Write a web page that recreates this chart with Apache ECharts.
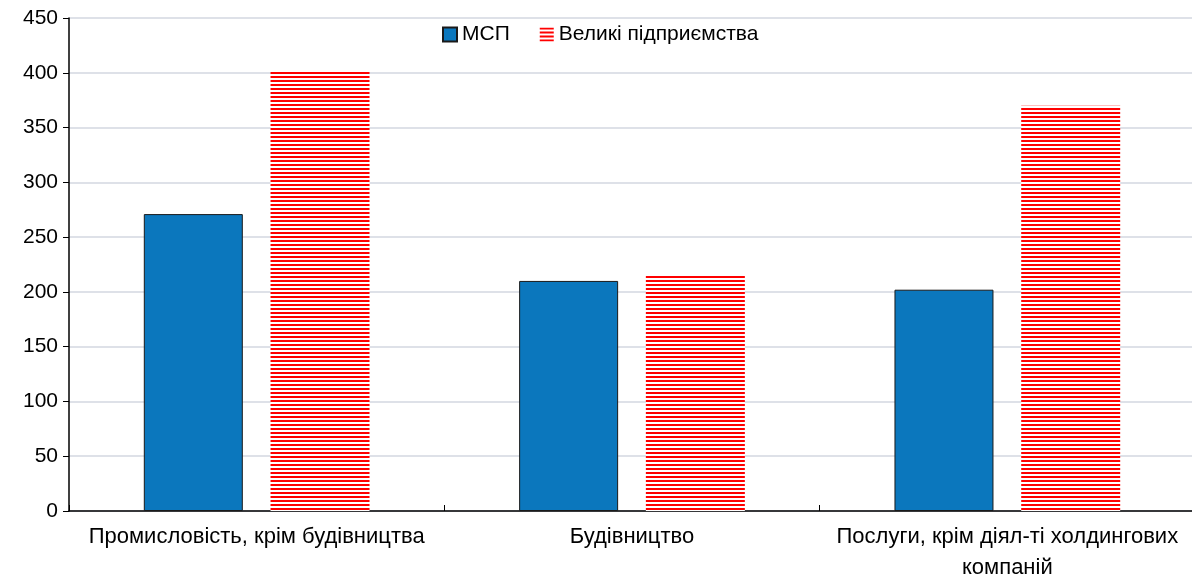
<!DOCTYPE html>
<html>
<head>
<meta charset="utf-8">
<script src="https://cdn.jsdelivr.net/npm/echarts@6/dist/echarts.min.js"></script>
<style>
  html, body { margin: 0; padding: 0; background: #fff; }
  #chart { width: 1192px; height: 580px; }
</style>
</head>
<body>
<div id="chart"></div>
<script>
var categories = ['Промисловість, крім будівництва', 'Будівництво', 'Послуги, крім діял-ті холдингових\nкомпаній']
var smeValues = [271, 210, 202]
var largeValues = [402, 215, 370]
var yTicks = [0, 450, 50]

// червоні горизонтальні смужки
function stripes () {
  var c = document.createElement('canvas')
  c.width = 4
  c.height = 4
  var ctx = c.getContext('2d')
  ctx.fillStyle = '#ffffff'
  ctx.fillRect(0, 0, 4, 4)
  ctx.fillStyle = '#ff0000'
  ctx.fillRect(0, 0, 4, 2)
  return c
}

var myChart = echarts.init(document.getElementById('chart'))
var font = '"Liberation Sans", Arial, sans-serif'
var option = {
  animation: false,
  legend: {
    top: 19,
    left: 437,
    itemWidth: 14,
    itemHeight: 14,
    itemGap: 30,
    textStyle: { fontFamily: font, fontSize: 21, color: '#000' },
    data: [
      { name: 'МСП', icon: 'rect' },
      { name: 'Великі підприємства', icon: 'rect' }
    ]
  },
  grid: {
    left: 69,
    top: 18,
    width: 1126,
    height: 493,
    outerBoundsMode: 'none'
  },
  xAxis: {
    type: 'category',
    data: categories,
    axisLine: { lineStyle: { color: '#000', width: 1.5 } },
    axisTick: { show: true, inside: true, length: 6, lineStyle: { color: '#000' } },
    axisLabel: { fontFamily: font, fontSize: 22, color: '#000', margin: 10, lineHeight: 31, interval: 0 }
  },
  yAxis: {
    type: 'value',
    min: yTicks[0],
    max: yTicks[1],
    interval: yTicks[2],
    axisLine: { show: true, lineStyle: { color: '#000', width: 1.5 } },
    axisTick: { show: true, length: 6, lineStyle: { color: '#000' } },
    splitLine: { lineStyle: { color: '#d3d7e0', width: 1.5 } },
    axisLabel: { fontFamily: font, fontSize: 21, color: '#000', margin: 11 }
  },
  series: [
    {
      name: 'МСП',
      type: 'bar',
      data: smeValues,
      barWidth: 99,
      barGap: '28%',
      itemStyle: { color: '#0b77bd', borderColor: '#1a1a1a', borderWidth: 1 }
    },
    {
      name: 'Великі підприємства',
      type: 'bar',
      data: largeValues,
      barWidth: 99,
      barGap: '28%',
      itemStyle: { color: { image: stripes(), repeat: 'repeat' } }
    }
  ]
}

option && myChart.setOption(option)
</script>
</body>
</html>
